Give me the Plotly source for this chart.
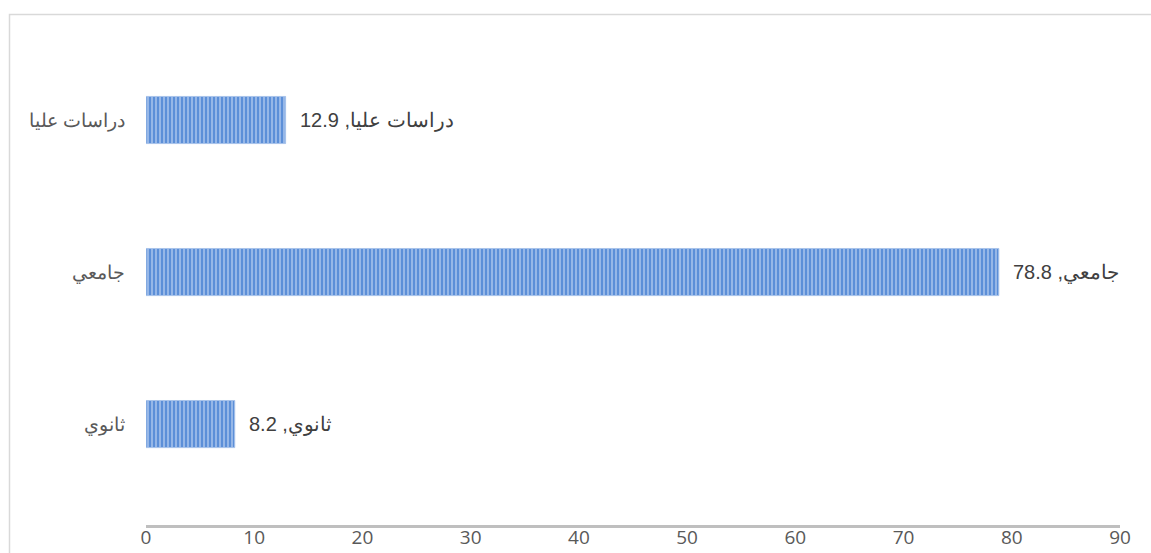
import plotly.graph_objects as go

categories = ["ثانوي", "جامعي", "دراسات عليا"]
values = [8.2, 78.8, 12.9]
x_ticks = [0, 10, 20, 30, 40, 50, 60, 70, 80, 90]

W, H = 1151, 553
L, R, T, B = 146, 31, 44, 28
pw, ph = W - L - R, H - T - B

fig = go.Figure()
fig.add_trace(go.Bar(
    x=values, y=categories, orientation="h", width=0.31,
    marker=dict(
        color="#5b8fd9",
        line=dict(color="#a8c3ea", width=1),
        pattern=dict(shape="|", size=4, solidity=0.5, fgcolor="#cfdff5", bgcolor="#5c8fd8", fillmode="overlay"),
    ),
    hoverinfo="skip",
))

for c, v in zip(categories, values):
    fig.add_annotation(
        x=v, y=c, xref="x", yref="y", xanchor="left", yanchor="middle",
        text="\u202b" + f"{c}, {v}" + "\u202c", showarrow=False, xshift=12,
        font=dict(family="Liberation Sans, Arial", size=20, color="#404040"),
    )

# outer chart border
fig.add_shape(type="rect", xref="paper", yref="paper",
              x0=(9.5 - L) / pw, x1=(W + 5 - L) / pw,
              y0=-0.2, y1=(H - B - 14.5) / ph,
              line=dict(color="#d9d9d9", width=1.5), fillcolor="rgba(0,0,0,0)", layer="below")

fig.update_layout(
    width=W, height=H,
    margin=dict(l=L, r=R, t=T, b=B, autoexpand=False),
    paper_bgcolor="white", plot_bgcolor="white",
    showlegend=False,
    xaxis=dict(range=[0, 90], tickvals=x_ticks, showgrid=False, zeroline=False,
               showline=True, linecolor="#bfbfbf", linewidth=2.5, automargin=False,
               ticklabelstandoff=-7,
               tickfont=dict(family="Open Sans, Liberation Sans", size=19, color="#595959"),
               ticks="", fixedrange=True),
    yaxis=dict(categoryorder="array", categoryarray=categories, range=[-0.664, 2.5],
               showgrid=False, zeroline=False, showline=False, ticks="", automargin=False,
               ticklabelstandoff=20,
               tickfont=dict(family="Liberation Sans, Arial", size=19, color="#595959"),
               fixedrange=True),
)

fig.write_html("out.html")
